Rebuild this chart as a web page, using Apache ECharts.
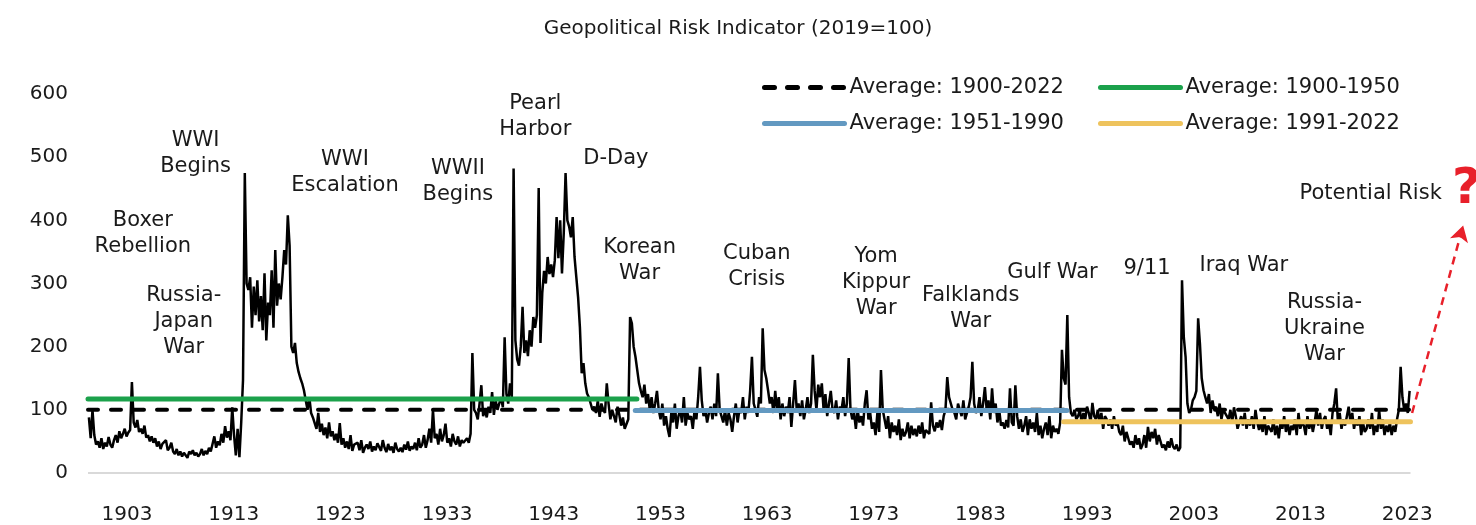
<!DOCTYPE html>
<html>
<head>
<meta charset="utf-8">
<script src="https://cdn.jsdelivr.net/npm/echarts@6/dist/echarts.min.js"></script>
<style>
  html, body { margin: 0; padding: 0; background: #fff; }
  #chart { width: 1476px; height: 525px; }
</style>
</head>
<body>
<div id="chart"></div>
<script>
// GPR index (2019=100), six readings per year (two-month steps)
const gpr1900s = [
  88, 55, 100, 60, 45, 50,
  40, 55, 38, 48, 42, 57,
  45, 40, 52, 60, 48, 66,
  55, 62, 70, 58, 64, 68,
  144, 80, 72, 84, 65, 70,
  62, 75, 56, 60, 50, 58,
  48, 55, 42, 50, 38, 46,
  44, 52, 36, 40, 48, 34,
  30, 38, 28, 34, 26, 32,
  28, 24, 34, 30, 36, 28
]
const gpr1910s = [
  32, 26, 30, 38, 28, 35,
  30, 40, 34, 46, 58, 40,
  50, 44, 62, 48, 74, 56,
  66, 52, 104, 60, 28, 70,
  25, 80, 147, 475, 300, 290,
  310, 230, 295, 250, 305, 240,
  280, 226, 316, 210, 270, 250,
  321, 230, 353, 265, 300, 275,
  310, 353, 330, 408, 360, 200,
  190, 206, 174, 160, 150, 142
]
const gpr1920s = [
  131, 115, 100, 120, 95, 88,
  85, 70, 95, 65, 78, 60,
  72, 55, 80, 58, 66, 52,
  62, 48, 79, 45, 55, 40,
  50, 38, 60, 35, 45, 42,
  48, 36, 52, 32, 40, 45,
  38, 50, 34, 42, 36, 47,
  44, 35, 52, 40, 33, 46,
  36, 42, 32, 48, 38, 34,
  40, 33, 45, 37, 50, 35
]
const gpr1930s = [
  42, 38, 48, 36, 55, 40,
  45, 60, 40, 52, 70, 48,
  100, 55, 62, 45, 70, 50,
  60, 78, 48, 55, 42, 62,
  50, 45, 58, 42, 52, 48,
  45, 55, 48, 62, 190, 100,
  95, 85, 110, 139, 90, 100,
  88, 105, 95, 128, 92, 115,
  100, 110, 120, 104, 215, 125,
  110, 142, 120, 482, 210, 180
]
const gpr1940s = [
  170, 200, 263, 190, 210, 185,
  226, 200, 247, 230, 250, 451,
  206, 285, 320, 300, 342, 315,
  330, 310, 337, 405, 340, 400,
  316, 380, 475, 400, 390, 373,
  405, 342, 310, 278, 231, 158,
  174, 142, 126, 120, 110, 100,
  105, 95, 115, 89, 110, 100,
  95, 142, 110, 85, 100, 90,
  80, 105, 92, 75, 88, 70
]
const gpr1950s = [
  68, 85, 247, 237, 200, 184,
  184, 142, 130, 120, 140, 110,
  125, 100, 120, 95, 110, 130,
  100, 85, 110, 75, 90, 70,
  57, 95, 80, 110, 70, 90,
  100, 80, 120, 75, 95, 85,
  90, 70, 100, 85, 120, 168,
  115, 90, 100, 80, 95, 105,
  85, 110, 90, 158, 100, 90,
  80, 100, 75, 95, 85, 65
]
const gpr1960s = [
  90, 110, 80, 100, 95, 120,
  85, 105, 95, 130, 184, 110,
  100, 89, 120, 110, 229, 163,
  150, 131, 110, 120, 95, 130,
  100, 120, 85, 110, 90, 105,
  95, 120, 73, 110, 147, 100,
  110, 90, 115, 85, 100, 120,
  95, 110, 187, 130, 100, 140,
  120, 142, 100, 125, 90, 110,
  130, 100, 95, 115, 85, 105
]
const gpr1970s = [
  100, 120, 90, 110, 182, 100,
  85, 95, 70, 100, 80, 90,
  75, 110, 131, 85, 95, 70,
  80, 60, 95, 65, 163, 100,
  85, 70, 90, 55, 80, 65,
  75, 60, 85, 52, 70, 58,
  65, 80, 55, 75, 60, 70,
  58, 75, 62, 80, 55, 68,
  70, 62, 112, 75, 66, 80,
  72, 84, 68, 90, 100, 152
]
const gpr1980s = [
  120, 110, 100, 95, 85, 110,
  100, 90, 115, 85, 95, 105,
  120, 176, 110, 95, 100, 120,
  90, 110, 136, 100, 115, 85,
  134, 95, 110, 80, 100, 75,
  80, 70, 84, 72, 134, 80,
  75, 139, 90, 70, 85, 65,
  75, 90, 60, 85, 70, 80,
  65, 95, 60, 75, 55, 70,
  80, 60, 90, 55, 75, 65
]
const gpr1990s = [
  70, 62, 80, 195, 150, 140,
  250, 120, 95, 90, 100, 85,
  90, 100, 80, 95, 85, 105,
  95, 80, 111, 90, 85, 100,
  80, 95, 70, 90, 85, 75,
  85, 70, 90, 75, 80, 65,
  60, 75, 50, 65, 55, 45,
  50, 40, 60, 45, 55, 38,
  45, 60, 40, 73, 50, 65,
  55, 70, 45, 60, 50, 40
]
const gpr2000s = [
  45, 36, 50, 40, 55, 42,
  38, 45, 35, 40, 305, 215,
  184, 110, 95, 100, 115, 120,
  130, 245, 205, 150, 131, 120,
  110, 125, 95, 115, 100, 105,
  90, 110, 85, 100, 95, 90,
  85, 100, 80, 104, 90, 70,
  80, 90, 75, 95, 70, 85,
  75, 90, 70, 100, 80, 68,
  80, 65, 90, 60, 75, 70
]
const gpr2010s = [
  65, 85, 60, 75, 55, 80,
  70, 90, 65, 80, 60, 75,
  68, 85, 60, 95, 70, 80,
  75, 60, 90, 70, 85, 65,
  80, 100, 75, 95, 70, 85,
  90, 70, 80, 60, 95, 110,
  134, 80, 95, 70, 85, 75,
  90, 105, 80, 95, 70, 85,
  75, 90, 60, 80, 65, 70,
  85, 70, 95, 60, 75, 65
]
const gpr2020s = [
  100, 70, 85, 60, 75, 65,
  80, 60, 75, 65, 85, 100,
  168, 120, 100, 110, 95, 130
]

// period averages
const avgNames = ['Average: 1900-2022', 'Average: 1900-1950', 'Average: 1951-1990', 'Average: 1991-2022']
const avgFrom = [1900, 1900, 1950.9, 1990.75]
const avgTo = [2022.9, 1951.05, 1991.05, 2023]
const avgValues = [100, 117, 99, 81]
const avgColors = ['#000000', '#1ba14b', '#6399c1', '#eec35d']

// event notes: text, year, level
const noteTexts = ['Boxer\nRebellion', 'Russia-\nJapan\nWar', 'WWI\nBegins', 'WWI\nEscalation', 'WWII\nBegins',
  'Pearl\nHarbor', 'D-Day', 'Korean\nWar', 'Cuban\nCrisis', 'Yom\nKippur\nWar', 'Falklands\nWar',
  'Gulf War', '9/11', 'Iraq War', 'Russia-\nUkraine\nWar', 'Potential Risk']
const noteYears = [1905.1, 1908.9, 1910.0, 1923.9, 1934.4, 1941.6, 1949.1, 1951.3, 1962.2, 1973.3,
  1982.1, 1989.7, 1998.5, 2007.5, 2015.0, 2019.3]
const noteLevels = [379, 240, 505, 475, 462, 565, 498, 337, 327, 302, 261, 318, 324, 329, 228, 443]

// x tick labels and where they sit on the year scale
const xLabelYears = [1903, 1913, 1923, 1933, 1943, 1953, 1963, 1973, 1983, 1993, 2003, 2013, 2023]
const xLabelAt = [1903.63, 1913.55, 1923.47, 1933.4, 1943.32, 1953.24, 1963.16, 1973.08, 1983.01,
  1992.93, 2002.85, 2012.77, 2022.7]

// "potential risk" arrow: from end of data up to the question mark
const riskFrom = [2023.15, 95]
const riskTo = [2027.9, 392]
const questionAt = [2028.2, 448]

const FONT = 'DejaVu Sans'

const gpr = [].concat(gpr1900s, gpr1910s, gpr1920s, gpr1930s, gpr1940s, gpr1950s,
  gpr1960s, gpr1970s, gpr1980s, gpr1990s, gpr2000s, gpr2010s, gpr2020s)
const gprData = gpr.map((v, i) => [1900 + i / 6 + 1 / 12, v])

const chart = echarts.init(document.getElementById('chart'))

const avgSeries = avgNames.map((name, i) => ({
  name: name,
  type: 'line',
  data: [[avgFrom[i], avgValues[i]], [avgTo[i], avgValues[i]]],
  symbol: 'none',
  silent: true,
  z: i === 0 ? 3 : 4,
  color: avgColors[i],
  lineStyle: i === 0
    ? { color: avgColors[i], width: 4, type: [10, 13], cap: 'round' }
    : { color: avgColors[i], width: 5, cap: 'round' }
}))

const legendBase = {
  orient: 'vertical',
  top: 77,
  padding: 0,
  itemWidth: 80,
  itemHeight: 14,
  itemGap: 15,
  selectedMode: false,
  itemStyle: { opacity: 0 },
  lineStyle: { width: 5 },
  textStyle: { fontFamily: FONT, fontSize: 21, color: '#1a1a1a' }
}

const options = {
  animation: false,
  title: {
    text: 'Geopolitical Risk Indicator (2019=100)',
    left: 'center',
    top: 14,
    textStyle: { fontFamily: FONT, fontSize: 20, fontWeight: 'normal', color: '#1a1a1a' }
  },
  legend: [
    Object.assign({}, legendBase, { left: 762, data: [avgNames[0], avgNames[2]] }),
    Object.assign({}, legendBase, { left: 1098, data: [avgNames[1], avgNames[3]] })
  ],
  grid: {
    left: 88,
    right: 1,
    top: 94,
    bottom: 52,
    outerBoundsMode: 'none'
  },
  xAxis: {
    type: 'value',
    min: 1900,
    max: 2029,
    splitLine: { show: false },
    axisLine: { show: false },
    axisTick: { show: false },
    axisLabel: {
      customValues: xLabelAt,
      formatter: v => {
        let k = 0
        xLabelAt.forEach((p, i) => { if (Math.abs(p - v) < Math.abs(xLabelAt[k] - v)) k = i })
        return String(xLabelYears[k])
      },
      fontFamily: FONT,
      fontSize: 20,
      color: '#1a1a1a',
      margin: 32
    }
  },
  yAxis: {
    type: 'value',
    min: 0,
    max: 600,
    interval: 100,
    splitLine: { show: false },
    axisLine: { show: false },
    axisTick: { show: false },
    axisLabel: { fontFamily: FONT, fontSize: 20, color: '#1a1a1a', margin: 20 }
  },
  series: [
    {
      name: 'baseline',
      type: 'line',
      data: [[1900, 0], [2023, 0]],
      symbol: 'none',
      silent: true,
      lineStyle: { color: '#d9d9d9', width: 2 },
      markLine: {
        silent: true,
        symbol: ['none', 'arrow'],
        symbolSize: [14, 16],
        label: { show: false },
        lineStyle: { color: '#e8202a', width: 2.5, type: [8, 6] },
        data: [[{ coord: riskFrom }, { coord: riskTo }]]
      }
    },
    {
      name: 'GPR',
      type: 'line',
      data: gprData,
      symbol: 'none',
      silent: true,
      z: 2,
      lineStyle: { color: '#000', width: 2.5 }
    }
  ].concat(avgSeries, [
    {
      name: 'notes',
      type: 'scatter',
      symbolSize: 0,
      silent: true,
      z: 5,
      itemStyle: { opacity: 1 },
      data: noteTexts.map((t, i) => ({ value: [noteYears[i], noteLevels[i]], name: t })),
      label: {
        show: true,
        position: 'inside',
        formatter: p => p.name,
        fontFamily: FONT,
        fontSize: 21,
        lineHeight: 26,
        color: '#1a1a1a',
        opacity: 1,
        align: 'center',
        verticalAlign: 'middle'
      }
    },
    {
      name: 'question',
      type: 'scatter',
      symbolSize: 0,
      silent: true,
      z: 5,
      itemStyle: { opacity: 1 },
      data: [{ value: questionAt, name: '?' }],
      label: {
        show: true,
        position: 'inside',
        formatter: '?',
        fontFamily: FONT,
        fontSize: 50,
        fontWeight: 'bold',
        color: '#e8202a',
        opacity: 1
      }
    }
  ])
}

chart.setOption(options)
</script>
</body>
</html>
